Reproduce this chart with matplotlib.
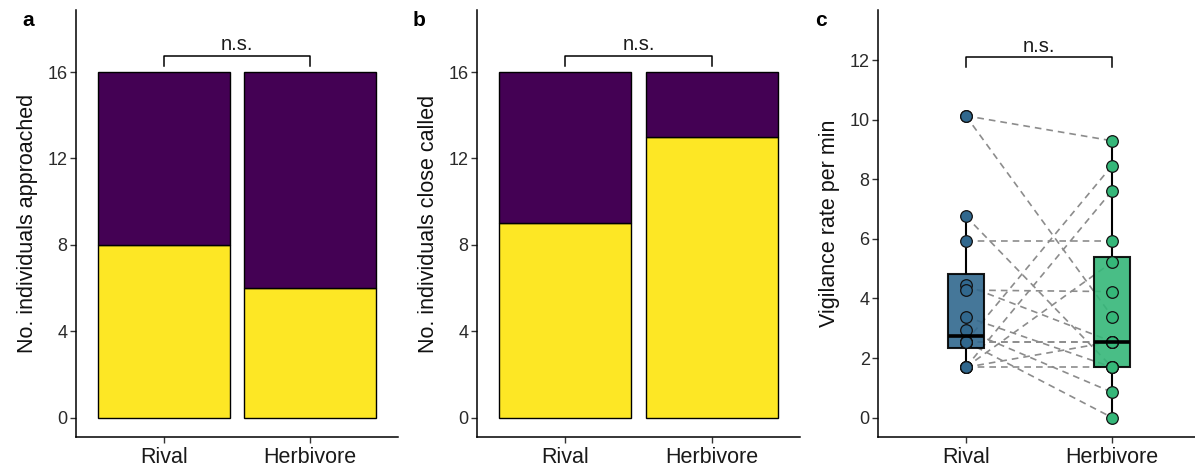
import matplotlib
matplotlib.use("Agg")
import matplotlib.pyplot as plt
import numpy as np

plt.rcParams['font.family'] = ['Liberation Sans', 'DejaVu Sans']

categories = ["Rival", "Herbivore"]
# panel a: approached (yellow) / not approached (purple)
approach_yes = [8, 6]
approach_no = [8, 10]
# panel b: close called (yellow) / not (purple)
called_yes = [9, 13]
called_no = [7, 3]
# panel c: paired vigilance rates per min
rival_vig = [10.13, 10.13, 6.76, 5.92, 4.44, 4.28, 3.39, 2.94,
             2.55, 2.55, 2.55, 2.55, 1.69, 1.69, 1.69, 1.69]
herb_vig = [9.29, 3.39, 1.69, 5.92, 2.55, 4.23, 1.69, 0.85,
            8.46, 2.55, 2.55, 0.0, 7.62, 5.22, 1.69, 2.55]

YELLOW = "#FDE725"
PURPLE = "#440154"
BLUE = "#31688E"
GREEN = "#35B779"

W, H = 1195, 466
fig = plt.figure(figsize=(W / 100, H / 100), dpi=100)

def ax_at(l, r, t, b):
    return fig.add_axes([l / W, (H - b) / H, (r - l) / W, (b - t) / H])

def style(ax):
    for s in ['top', 'right']:
        ax.spines[s].set_visible(False)
    for s in ['left', 'bottom']:
        ax.spines[s].set_linewidth(1.1)
    ax.tick_params(axis='both', length=4, width=1.0, color='#333333')
    ax.tick_params(axis='y', labelsize=13, labelcolor='#2a2a2a', pad=2)
    ax.tick_params(axis='x', labelsize=15.5, labelcolor='#1a1a1a', pad=3)

def bracket(ax, y_top, y_bot, y_txt):
    ax.plot([1, 1, 2, 2], [y_bot, y_top, y_top, y_bot], color='black', lw=1.1,
            clip_on=False)
    ax.text(1.5, y_txt, "n.s.", ha='center', va='bottom', fontsize=14.5,
            color='#1a1a1a')

x = np.arange(1, len(categories) + 1)
bar_ylim = (-0.893, 18.87)

panels = [
    (76, 398, "a", "No. individuals approached", approach_yes, approach_no, 22),
    (477, 800, "b", "No. individuals close called", called_yes, called_no, 413),
]
for l, r, lab, ylab, yes, no, lx in panels:
    ax = ax_at(l, r, 10, 437)
    ax.bar(x, yes, width=0.9, color=YELLOW, edgecolor='black', linewidth=1.0)
    ax.bar(x, no, bottom=yes, width=0.9, color=PURPLE, edgecolor='black',
           linewidth=1.0)
    ax.set_xlim(0.4, 2.6)
    ax.set_ylim(*bar_ylim)
    ax.set_yticks([0, 4, 8, 12, 16])
    ax.set_xticks(x)
    ax.set_xticklabels(categories)
    ax.set_ylabel(ylab, fontsize=15.5, color='#111111', labelpad=7)
    style(ax)
    bracket(ax, 16.75, 16.28, 16.85)
    fig.text(lx / W, (H - 20) / H, lab, fontsize=15, fontweight='bold',
             ha='left', va='center')

# panel c
ax = ax_at(878, 1200, 10, 437)
ax.set_xlim(0.4, 2.6)
ax.set_ylim(-0.65, 13.68)
for rv, hv in zip(rival_vig, herb_vig):
    ax.plot([1, 2], [rv, hv], ls=(0, (4, 3)), color='#8C8C8C', lw=1.2, zorder=1)

for pos, vals, col in [(1, rival_vig, BLUE), (2, herb_vig, GREEN)]:
    bp = ax.boxplot([vals], positions=[pos], widths=0.25, patch_artist=True,
                    showfliers=False, manage_ticks=False, whis=1.5)
    for b in bp['boxes']:
        b.set_facecolor(col)
        b.set_alpha(0.9)
        b.set_edgecolor('black')
        b.set_linewidth(1.5)
        b.set_zorder(3)
    for w in bp['whiskers']:
        w.set_color('black'); w.set_linewidth(1.5); w.set_zorder(2)
    for c in bp['caps']:
        c.set_visible(False)
    for m in bp['medians']:
        m.set_color('black'); m.set_linewidth(2.6); m.set_zorder(6)
    ax.scatter(np.full(len(vals), pos), vals, s=70, color=col,
               edgecolor='#111111', linewidth=0.9, zorder=5)

ax.set_yticks([0, 2, 4, 6, 8, 10, 12])
ax.set_xticks([1, 2])
ax.set_xticklabels(categories)
ax.set_ylabel("Vigilance rate per min", fontsize=15.5, color='#111111', labelpad=7)
style(ax)
bracket(ax, 12.1, 11.77, 12.12)
fig.text(815 / W, (H - 20) / H, "c", fontsize=15, fontweight='bold',
         ha='left', va='center')

fig.savefig("out.png", dpi=100)
